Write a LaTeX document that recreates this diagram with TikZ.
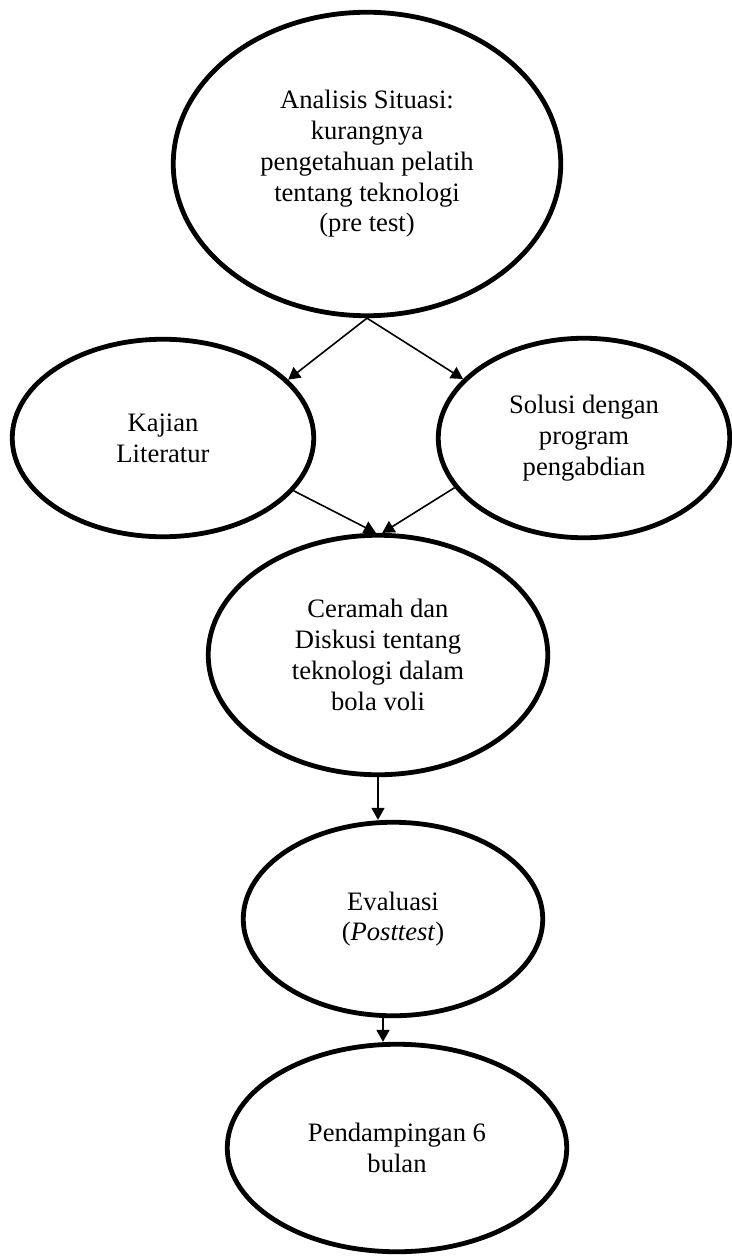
\documentclass[tikz,border=0pt]{standalone}
\usepackage{fontspec}
\setmainfont{Liberation Serif}
\usetikzlibrary{shapes.geometric,arrows.meta}
\begin{document}
\begin{tikzpicture}[x=0.5pt,y=-0.5pt,
  oval/.style={ellipse,draw=black,line width=2.4pt,inner sep=0pt,align=center,
    font=\fontsize{13.3pt}{15.4pt}\selectfont},
  arr/.style={draw=black,line width=0.8pt,-{Triangle[length=6pt,width=6.5pt]}}]
\useasboundingbox[fill=white] (0,0) rectangle (732,1257);
\node[oval,minimum width=193.75pt,minimum height=151.75pt] (e1) at (367,164)
  {Analisis Situasi:\\kurangnya\\pengetahuan pelatih\\tentang teknologi\\(pre test)};
\node[oval,minimum width=150.75pt,minimum height=98.75pt] (kaj) at (163,438)
  {Kajian\\Literatur};
\node[oval,minimum width=145.75pt,minimum height=99.75pt] (sol) at (584,438)
  {Solusi dengan\\program\\pengabdian};
\node[oval,minimum width=169.75pt,minimum height=119.75pt] (cer) at (378,655)
  {Ceramah dan\\Diskusi tentang\\teknologi dalam\\bola voli};
\node[oval,minimum width=149.75pt,minimum height=96.75pt] (ev) at (393,919)
  {Evaluasi\\(\textit{Posttest})};
\node[oval,minimum width=169.75pt,minimum height=103.75pt] (pe) at (397,1148)
  {Pendampingan 6\\bulan};
\draw[arr] (e1.south) -- (kaj.25);
\draw[arr] (e1.south) -- (sol.154);
\draw[arr] (kaj.-22) -- (cer.91);
\draw[arr] (sol.201) -- (cer.88);
\draw[arr] (cer.south) -- (cer.south |- ev.north);
\draw[arr] ([xshift=-5pt]ev.south) -- ([xshift=-5pt]ev.south |- pe.north);
\end{tikzpicture}
\end{document}
